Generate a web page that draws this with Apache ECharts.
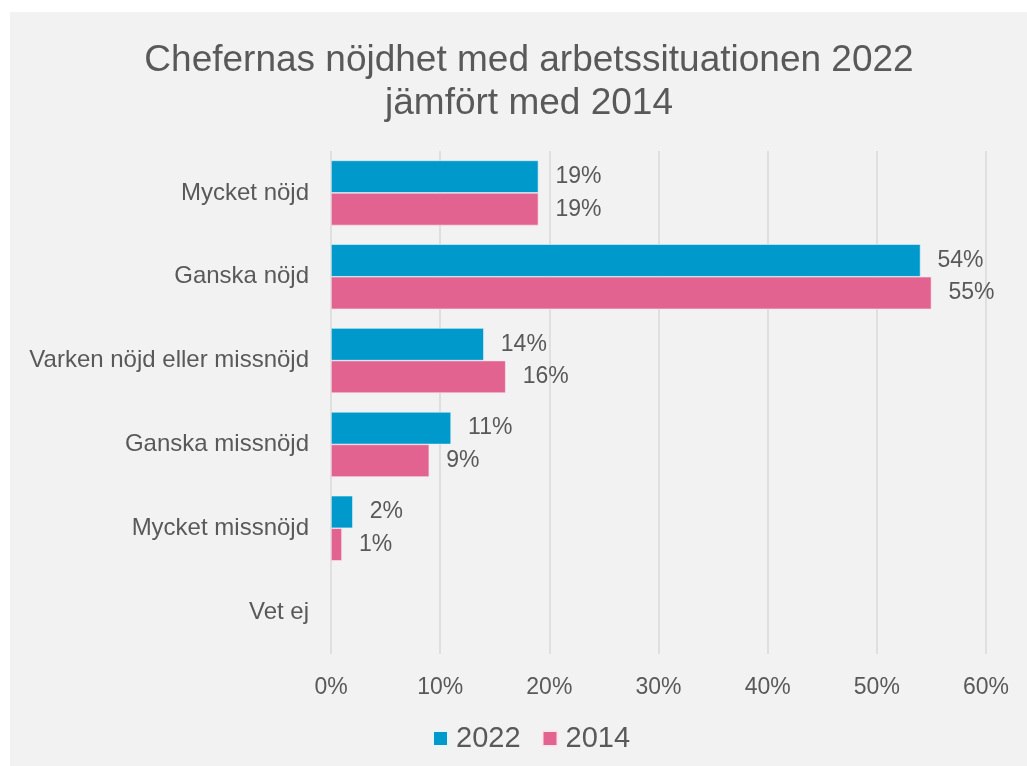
<!DOCTYPE html>
<html>
<head>
<meta charset="utf-8">
<script src="https://cdn.jsdelivr.net/npm/echarts@6/dist/echarts.min.js"></script>
<style>
  html, body { margin: 0; padding: 0; background: #fff; }
  #panel { position: absolute; left: 10px; top: 12px; width: 1017px; height: 754px; background: #f2f2f2; }
  #main { position: absolute; left: 0; top: 0; width: 1027px; height: 766px; }
</style>
</head>
<body>
<div id="panel"></div>
<div id="main"></div>
<script>
// kategorier och värden (procent)
const categories = ['Mycket nöjd', 'Ganska nöjd', 'Varken nöjd eller missnöjd', 'Ganska missnöjd', 'Mycket missnöjd', 'Vet ej']
const values2022 = [19, 54, 14, 11, 2, null]
const values2014 = [19, 55, 16, 9, 1, null]
const xTicks = [0, 10, 20, 30, 40, 50, 60]

const textColor = '#595959'
const font = 'Liberation Sans, Arial, sans-serif'

var myChart = echarts.init(document.getElementById('main'))

var option = {
  backgroundColor: 'transparent',
  title: {
    text: 'Chefernas nöjdhet med arbetssituationen 2022\njämfört med 2014',
    left: 524,
    textAlign: 'center',
    top: 34,
    textStyle: {
      color: textColor,
      fontFamily: font,
      fontWeight: 'normal',
      fontSize: 37,
      lineHeight: 43
    }
  },
  legend: {
    top: 724,
    left: 432,
    padding: 0,
    itemWidth: 15,
    itemHeight: 15,
    itemGap: 21,
    icon: 'rect',
    textStyle: { color: textColor, fontFamily: font, fontSize: 29, padding: [0, 0, 0, 3] },
    data: ['2022', '2014']
  },
  grid: {
    left: 331,
    right: 41,
    top: 151,
    bottom: 112
  },
  xAxis: {
    type: 'value',
    min: xTicks[0],
    max: xTicks[xTicks.length - 1],
    interval: 10,
    axisLine: { show: false },
    axisTick: { show: false },
    splitLine: { lineStyle: { color: '#d9d9d9', width: 1.5 } },
    axisLabel: {
      formatter: '{value}%',
      color: textColor,
      fontFamily: font,
      fontSize: 23,
      margin: 22
    }
  },
  yAxis: {
    type: 'category',
    inverse: true,
    data: categories,
    axisLine: { show: false },
    axisTick: { show: false },
    axisLabel: {
      color: textColor,
      fontFamily: font,
      fontSize: 24,
      margin: 22
    }
  },
  series: [
    {
      name: '2022',
      type: 'bar',
      data: values2022,
      barGap: '0%',
      barCategoryGap: '22.4%',
      itemStyle: { color: '#0099cc', borderColor: '#e8f4f8', borderWidth: 0.6 },
      label: {
        show: true,
        position: 'right',
        distance: 17,
        formatter: '{c}%',
        color: textColor,
        fontFamily: font,
        fontSize: 23
      }
    },
    {
      name: '2014',
      type: 'bar',
      data: values2014,
      itemStyle: { color: '#e26290', borderColor: '#f8e8ee', borderWidth: 0.6 },
      label: {
        show: true,
        position: 'right',
        distance: 17,
        formatter: '{c}%',
        color: textColor,
        fontFamily: font,
        fontSize: 23
      }
    }
  ]
}

myChart.setOption(option)
</script>
</body>
</html>
